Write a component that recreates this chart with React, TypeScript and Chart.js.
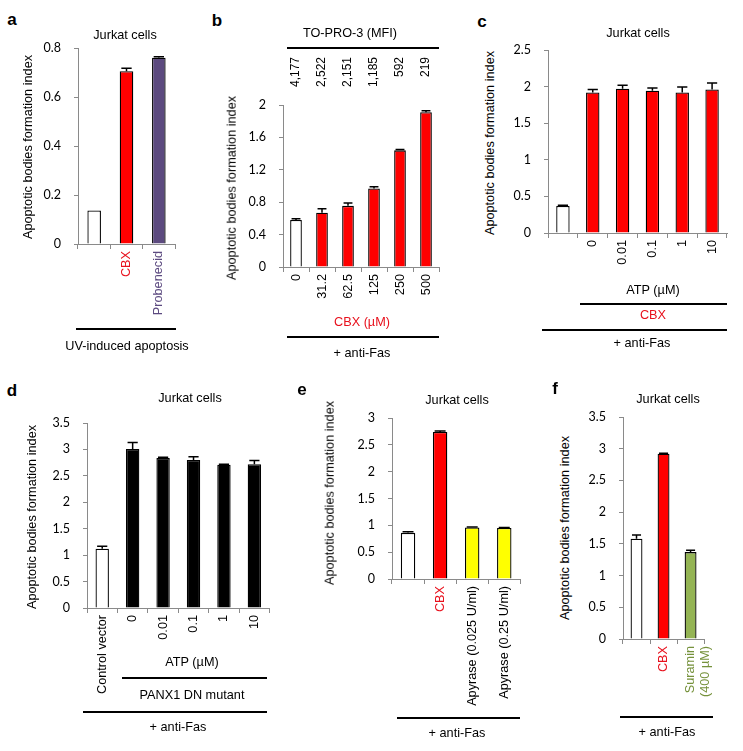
import React, { useEffect, useRef } from 'react';
import { Chart, registerables } from 'chart.js';

Chart.register(...registerables);

// ---------- data ----------
const A_LABELS = ['', 'CBX', 'Probenecid'];
const A_VALUES = [0.137, 0.705, 0.76];
const A_ERRORS = [0, 0.012, 0.004];

const B_LABELS = ['0', '31.2', '62.5', '125', '250', '500'];
const B_MFI = ['4,177', '2,522', '2,151', '1,185', '592', '219'];
const B_VALUES = [0.58, 0.67, 0.755, 0.97, 1.44, 1.91];
const B_ERRORS = [0.015, 0.05, 0.035, 0.02, 0.01, 0.02];

const C_LABELS = ['', '0', '0.01', '0.1', '1', '10'];
const C_VALUES = [0.37, 1.92, 1.97, 1.945, 1.92, 1.96];
const C_ERRORS = [0.01, 0.04, 0.05, 0.035, 0.075, 0.09];

const D_LABELS = ['Control vector', '0', '0.01', '0.1', '1', '10'];
const D_VALUES = [1.12, 3.01, 2.84, 2.8, 2.71, 2.72];
const D_ERRORS = [0.05, 0.12, 0.01, 0.06, 0.01, 0.07];

const E_LABELS = ['', 'CBX', 'Apyrase (0.025 U/ml)', 'Apyrase (0.25 U/ml)'];
const E_VALUES = [0.86, 2.74, 0.96, 0.95];
const E_ERRORS = [0.02, 0.02, 0.01, 0.01];

const F_LABELS: (string | string[])[] = ['', 'CBX', ['Suramin', '(400 µM)']];
const F_VALUES = [1.58, 2.92, 1.37];
const F_ERRORS = [0.06, 0.01, 0.03];

// ---------- styles ----------
const AXIS = '#8a8a8a';
const RED = '#ff0000';
const RED_TEXT = '#e8101c';
const WHITE = '#ffffff';
const BLACK = '#000000';
const PURPLE = '#5c4a7f';
const PURPLE_TEXT = '#5c4a80';
const YELLOW = '#ffff00';
const GREEN = '#94b454';
const GREEN_TEXT = '#76923c';
const SANS = '"Liberation Sans", Arial, sans-serif';

type Area = { l: number; t: number; r: number; b: number };
interface PanelSpec {
  area: Area;
  padTop: number;
  labels: (string | string[])[];
  values: number[];
  errors: number[];
  colors: string[];
  labelColors: string[];
  yMax: number;
  yStep: number;
  barFrac: number;
  topLabels?: string[];
}

const errorBarPlugin = {
  id: 'errorBars',
  afterDatasetsDraw(chart: any) {
    const ctx = chart.ctx;
    const ys = chart.scales.y;
    chart.data.datasets.forEach((ds: any, di: number) => {
      const errs = ds.errors as number[] | undefined;
      if (!errs) return;
      const meta = chart.getDatasetMeta(di);
      meta.data.forEach((bar: any, i: number) => {
        const v = ds.data[i];
        const e = errs[i];
        if (v == null || !e) return;
        const x = bar.x;
        const y0 = ys.getPixelForValue(v);
        const y1 = ys.getPixelForValue(v + e);
        const half = bar.width * 0.38;
        ctx.save();
        ctx.strokeStyle = '#000';
        ctx.lineWidth = 1.5;
        ctx.beginPath();
        ctx.moveTo(x, y0);
        ctx.lineTo(x, y1);
        ctx.moveTo(x - half, y1);
        ctx.lineTo(x + half, y1);
        ctx.stroke();
        ctx.restore();
      });
    });
  },
};

const topLabelPlugin = {
  id: 'topLabels',
  afterDraw(chart: any, _args: any, opts: any) {
    const labels = opts && opts.labels;
    if (!labels) return;
    const xs = chart.scales.x;
    const ctx = chart.ctx;
    ctx.save();
    ctx.font = `12px ${SANS}`;
    ctx.fillStyle = '#000';
    ctx.textAlign = 'right';
    ctx.textBaseline = 'middle';
    labels.forEach((s: string, i: number) => {
      const x = xs.getPixelForValue(i);
      ctx.save();
      ctx.translate(x, chart.chartArea.top - opts.gap);
      ctx.rotate(-Math.PI / 2);
      ctx.fillText(s, 0, 0);
      ctx.restore();
    });
    ctx.restore();
  },
};

function BarPanel({ spec }: { spec: PanelSpec }) {
  const ref = useRef<HTMLCanvasElement>(null);
  const { area, padTop } = spec;
  const x = area.l - 50;
  const y = area.t - padTop;
  const w = Math.round(area.r + 12 - x);
  const h = Math.round(area.b + 135 - y);
  useEffect(() => {
    const chart = new Chart(ref.current as HTMLCanvasElement, {
      type: 'bar',
      data: {
        labels: spec.labels as any,
        datasets: [
          {
            data: spec.values,
            errors: spec.errors,
            backgroundColor: spec.colors,
            borderColor: '#000',
            borderWidth: 1.3,
            barPercentage: 1,
            categoryPercentage: spec.barFrac,
          } as any,
        ],
      },
      plugins: [errorBarPlugin, topLabelPlugin],
      options: {
        responsive: false,
        animation: false,
        devicePixelRatio: 1,
        layout: { padding: { left: 5, top: padTop, right: w - (area.r - x), bottom: 5 } },
        plugins: {
          legend: { display: false },
          tooltip: { enabled: false },
          topLabels: { labels: spec.topLabels, gap: 48 },
        } as any,
        scales: {
          x: {
            afterFit: (s: any) => {
              s.height = 130;
            },
            border: { color: AXIS, width: 1 },
            grid: { drawOnChartArea: false, offset: true, tickLength: 5, color: AXIS },
            ticks: {
              autoSkip: false,
              minRotation: 90,
              maxRotation: 90,
              padding: 2,
              color: (c: any) => spec.labelColors[c.index] || '#000',
              font: { family: SANS, size: 12.7 },
            },
          },
          y: {
            min: 0,
            max: spec.yMax,
            afterFit: (s: any) => {
              s.width = 45;
            },
            border: { color: AXIS, width: 1 },
            grid: { drawOnChartArea: false, tickLength: 4, color: AXIS },
            ticks: {
              stepSize: spec.yStep,
              padding: 13,
              color: '#000',
              font: { family: 'Lato', size: 12.5 },
              callback: (v: any) => String(Math.round(Number(v) * 100) / 100),
            },
          },
        },
      } as any,
    });
    return () => chart.destroy();
  }, []);
  return (
    <canvas
      ref={ref}
      width={w}
      height={h}
      style={{ position: 'absolute', left: x, top: y, width: w, height: h }}
    />
  );
}

function T({ x, y, text, color = '#000', size = 12.7, rot = false, bold = false }: any) {
  return (
    <div
      style={{
        position: 'absolute',
        left: x,
        top: y,
        transform: `translate(-50%,-50%)${rot ? ' rotate(-90deg)' : ''}`,
        whiteSpace: 'nowrap',
        font: `${bold ? 'bold ' : ''}${size}px ${SANS}`,
        color,
        lineHeight: 1,
      }}
    >
      {text}
    </div>
  );
}

function L({ x1, x2, y }: any) {
  return (
    <div style={{ position: 'absolute', left: x1, top: y - 0.75, width: x2 - x1, height: 1.5, background: '#000' }} />
  );
}

const YTITLE = 'Apoptotic bodies formation index';
const JURKAT = 'Jurkat cells';
const ANTIFAS = '+ anti-Fas';

const SPEC_A: PanelSpec = {
  area: { l: 78.3, t: 48.3, r: 175.3, b: 244.3 },
  padTop: 26,
  labels: A_LABELS,
  values: A_VALUES,
  errors: A_ERRORS,
  colors: [WHITE, RED, PURPLE],
  labelColors: ['#000', RED_TEXT, PURPLE_TEXT],
  yMax: 0.8,
  yStep: 0.2,
  barFrac: 0.42,
};
const SPEC_B: PanelSpec = {
  area: { l: 283.3, t: 105, r: 439.3, b: 266.5 },
  padTop: 60,
  labels: B_LABELS,
  values: B_VALUES,
  errors: B_ERRORS,
  colors: [WHITE, RED, RED, RED, RED, RED],
  labelColors: ['#000', '#000', '#000', '#000', '#000', '#000'],
  yMax: 2,
  yStep: 0.4,
  barFrac: 0.45,
  topLabels: B_MFI,
};
const SPEC_C: PanelSpec = {
  area: { l: 548, t: 50, r: 727, b: 233.3 },
  padTop: 26,
  labels: C_LABELS,
  values: C_VALUES,
  errors: C_ERRORS,
  colors: [WHITE, RED, RED, RED, RED, RED],
  labelColors: ['#000', '#000', '#000', '#000', '#000', '#000'],
  yMax: 2.5,
  yStep: 0.5,
  barFrac: 0.45,
};
const SPEC_D: PanelSpec = {
  area: { l: 86.7, t: 423.3, r: 269.3, b: 608.3 },
  padTop: 26,
  labels: D_LABELS,
  values: D_VALUES,
  errors: D_ERRORS,
  colors: [WHITE, BLACK, BLACK, BLACK, BLACK, BLACK],
  labelColors: ['#000', '#000', '#000', '#000', '#000', '#000'],
  yMax: 3.5,
  yStep: 0.5,
  barFrac: 0.44,
};
const SPEC_E: PanelSpec = {
  area: { l: 391.7, t: 418.3, r: 520, b: 579 },
  padTop: 26,
  labels: E_LABELS,
  values: E_VALUES,
  errors: E_ERRORS,
  colors: [WHITE, RED, YELLOW, YELLOW],
  labelColors: ['#000', RED_TEXT, '#000', '#000'],
  yMax: 3,
  yStep: 0.5,
  barFrac: 0.45,
};
const SPEC_F: PanelSpec = {
  area: { l: 623, t: 416.7, r: 713.3, b: 638.3 },
  padTop: 26,
  labels: F_LABELS,
  values: F_VALUES,
  errors: F_ERRORS,
  colors: [WHITE, RED, GREEN],
  labelColors: ['#000', RED_TEXT, GREEN_TEXT],
  yMax: 3.5,
  yStep: 0.5,
  barFrac: 0.44,
};

export default function App() {
  return (
    <div
      style={{
        position: 'absolute',
        left: 0,
        top: 0,
        width: 743,
        height: 751,
        overflow: 'hidden',
        background: '#fff',
      }}
    >
      <BarPanel spec={SPEC_A} />
      <BarPanel spec={SPEC_B} />
      <BarPanel spec={SPEC_C} />
      <BarPanel spec={SPEC_D} />
      <BarPanel spec={SPEC_E} />
      <BarPanel spec={SPEC_F} />

      {/* panel letters */}
      <T x={12} y={19} text="a" bold size={17} />
      <T x={217} y={20} text="b" bold size={17} />
      <T x={482} y={21} text="c" bold size={17} />
      <T x={12} y={390} text="d" bold size={17} />
      <T x={302} y={389} text="e" bold size={17} />
      <T x={555} y={388} text="f" bold size={17} />

      {/* titles */}
      <T x={125} y={35} text={JURKAT} />
      <T x={638} y={33} text={JURKAT} />
      <T x={190} y={398} text={JURKAT} />
      <T x={457} y={400} text={JURKAT} />
      <T x={668} y={399} text={JURKAT} />
      <T x={350} y={33} text="TO-PRO-3 (MFI)" />
      <L x1={287} x2={439} y={48} />

      {/* y titles */}
      <T x={28} y={147} text={YTITLE} rot />
      <T x={232} y={188} text={YTITLE} rot />
      <T x={490} y={143} text={YTITLE} rot />
      <T x={32} y={517} text={YTITLE} rot />
      <T x={330} y={493} text={YTITLE} rot />
      <T x={565} y={528} text={YTITLE} rot />

      {/* panel a annotations */}
      <L x1={76} x2={176} y={329} />
      <T x={127} y={346} text="UV-induced apoptosis" />

      {/* panel b */}
      <T x={362} y={322} text="CBX (µM)" color={RED_TEXT} />
      <L x1={287} x2={439} y={337} />
      <T x={362} y={353} text={ANTIFAS} />

      {/* panel c */}
      <T x={653} y={290} text="ATP (µM)" />
      <L x1={580} x2={727} y={304} />
      <T x={653} y={315} text="CBX" color={RED_TEXT} />
      <L x1={542} x2={727} y={330} />
      <T x={642} y={343} text={ANTIFAS} />

      {/* panel d */}
      <T x={192} y={662} text="ATP (µM)" />
      <L x1={122} x2={267} y={678} />
      <T x={192} y={695} text="PANX1 DN mutant" />
      <L x1={83} x2={267} y={712} />
      <T x={178} y={727} text={ANTIFAS} />

      {/* panel e */}
      <L x1={397} x2={520} y={718} />
      <T x={457} y={733} text={ANTIFAS} />

      {/* panel f */}
      <L x1={620} x2={713} y={717} />
      <T x={667} y={732} text={ANTIFAS} />
    </div>
  );
}
